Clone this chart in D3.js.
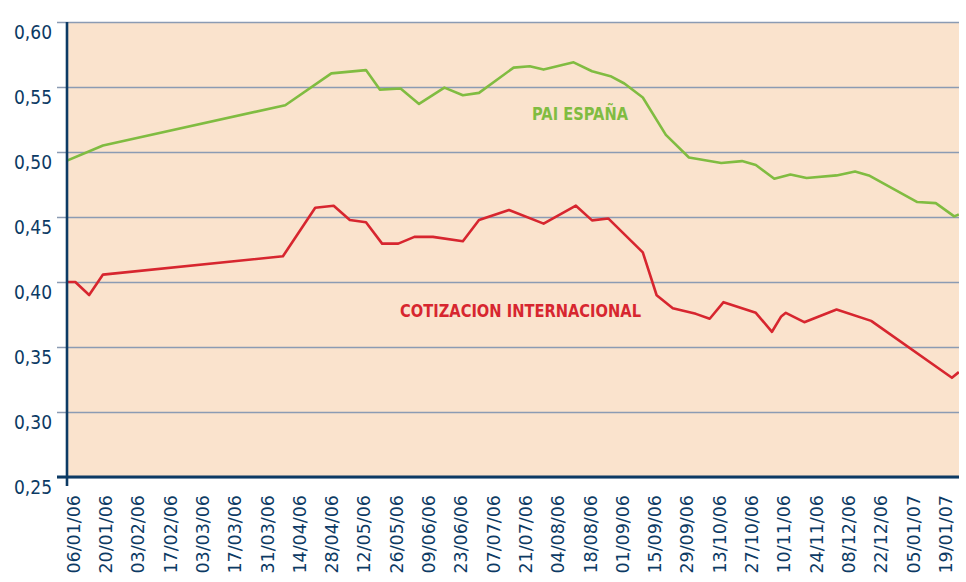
<!DOCTYPE html>
<html><head><meta charset="utf-8">
<script src="https://cdn.jsdelivr.net/npm/d3@7"></script>
<style>
html,body{margin:0;padding:0;background:#fff;}
svg{display:block;}
</style></head>
<body>
<svg id="chart" width="966" height="582"></svg>
<script>
// ---- data ----
const tickDates = ["06/01/06","20/01/06","03/02/06","17/02/06","03/03/06","17/03/06","31/03/06","14/04/06","28/04/06","12/05/06","26/05/06","09/06/06","23/06/06","07/07/06","21/07/06","04/08/06","18/08/06","01/09/06","15/09/06","29/09/06","13/10/06","27/10/06","10/11/06","24/11/06","08/12/06","22/12/06","05/01/07","19/01/07"];
const yTicks = [0.25,0.30,0.35,0.40,0.45,0.50,0.55,0.60];

const paiDates = ["03/01/06","19/01/06","08/04/06","28/04/06","13/05/06","19/05/06","28/05/06","05/06/06","16/06/06","24/06/06","01/07/06","16/07/06","23/07/06","29/07/06","11/08/06","19/08/06","27/08/06","02/09/06","10/09/06","20/09/06","30/09/06","14/10/06","23/10/06","29/10/06","06/11/06","13/11/06","20/11/06","03/12/06","11/12/06","17/12/06","07/01/07","15/01/07","23/01/07","25/01/07"];
const paiValues = [0.493,0.505,0.536,0.5605,0.563,0.548,0.5488,0.537,0.5495,0.5437,0.5455,0.5649,0.566,0.5634,0.569,0.5621,0.5583,0.5527,0.5419,0.5132,0.4958,0.4915,0.493,0.490,0.4794,0.4827,0.480,0.482,0.485,0.482,0.4615,0.4607,0.4505,0.452];

const cotDates = ["03/01/06","07/01/06","13/01/06","19/01/06","07/04/06","21/04/06","29/04/06","06/05/06","13/05/06","20/05/06","27/05/06","03/06/06","11/06/06","24/06/06","01/07/06","14/07/06","29/07/06","12/08/06","19/08/06","26/08/06","10/09/06","16/09/06","23/09/06","03/10/06","09/10/06","15/10/06","29/10/06","05/11/06","09/11/06","11/11/06","19/11/06","03/12/06","18/12/06","22/01/07","25/01/07"];
const cotValues = [0.400,0.400,0.390,0.4057,0.4198,0.4571,0.4587,0.4477,0.4459,0.4295,0.4295,0.4347,0.4347,0.4313,0.4477,0.4554,0.4449,0.4587,0.4474,0.4489,0.4228,0.3898,0.3798,0.3755,0.3717,0.3845,0.3763,0.3617,0.3735,0.3763,0.3691,0.3788,0.3701,0.3263,0.3307];

const seriesLabels = ["PAI ESPAÑA","COTIZACION INTERNACIONAL"];

// ---- layout ----
const navy = "#0c3a64", green = "#80bc41", red = "#d7262f", bg = "#fae3cd", grid = "#8b9bb3";
const parse = d3.timeParse("%d/%m/%y");
const fmt = d3.format(".2f");
const plot = {left: 67, right: 959, top: 22, bottom: 477};

const svg = d3.select("#chart");
const x = d3.scaleTime()
  .domain([parse(tickDates[0]), parse(tickDates[tickDates.length-1])])
  .range([73, 945]);
const y = d3.scaleLinear().domain([0.25, 0.60]).range([plot.bottom, plot.top]);

// background
svg.append("rect").attr("x", plot.left).attr("y", plot.top)
  .attr("width", plot.right - plot.left).attr("height", plot.bottom - plot.top)
  .attr("fill", bg);

// gridlines + y ticks
const yAxis = d3.axisLeft(y).tickValues(yTicks)
  .tickSize(-(plot.right - plot.left)).tickSizeOuter(0)
  .tickFormat(d => fmt(d).replace(".", ","));
const gy = svg.append("g").attr("transform", `translate(${plot.left},0)`).call(yAxis);
gy.select(".domain").remove();
gy.selectAll(".tick line").attr("stroke", grid).attr("stroke-width", 1.6).attr("x1", -10);
gy.selectAll(".tick text")
  .attr("x", -15).attr("dy", "0.85em")
  .attr("fill", navy)
  .style("font-family", "'DejaVu Sans Condensed', 'DejaVu Sans', sans-serif")
  .style("font-stretch", "condensed")
  .style("font-size", "19px");

// lines
const clip = svg.append("clipPath").attr("id", "pclip").append("rect")
  .attr("x", plot.left).attr("y", plot.top - 5)
  .attr("width", plot.right - plot.left).attr("height", plot.bottom - plot.top + 10);

const line = d3.line().x(d => x(d[0])).y(d => y(d[1]));
const paiData = paiDates.map((d, i) => [parse(d), paiValues[i]]);
const cotData = cotDates.map((d, i) => [parse(d), cotValues[i]]);

const lg = svg.append("g").attr("clip-path", "url(#pclip)");
lg.append("path").datum(paiData).attr("d", line)
  .attr("fill", "none").attr("stroke", green).attr("stroke-width", 2.6)
  .attr("stroke-linejoin", "round");
lg.append("path").datum(cotData).attr("d", line)
  .attr("fill", "none").attr("stroke", red).attr("stroke-width", 2.6)
  .attr("stroke-linejoin", "round");

// axes lines
svg.append("line").attr("x1", plot.left).attr("x2", plot.left)
  .attr("y1", plot.top).attr("y2", plot.bottom + 9)
  .attr("stroke", navy).attr("stroke-width", 2.6);
svg.append("line").attr("x1", plot.left - 10).attr("x2", plot.right)
  .attr("y1", plot.bottom).attr("y2", plot.bottom)
  .attr("stroke", navy).attr("stroke-width", 3);

// x labels
const xAxis = d3.axisBottom(x).tickValues(tickDates.map(parse))
  .tickSize(0).tickFormat(d3.timeFormat("%d/%m/%y"));
const gx = svg.append("g").attr("transform", `translate(0,${plot.bottom})`).call(xAxis);
gx.select(".domain").remove();
gx.selectAll(".tick text")
  .attr("transform", "rotate(-90)")
  .attr("x", -18).attr("y", 0).attr("dy", "0.36em")
  .attr("text-anchor", "end")
  .attr("fill", navy)
  .style("font-family", "'DejaVu Sans', Verdana, sans-serif")
  .style("font-size", "17.5px");

// series labels
svg.append("text").attr("x", 532).attr("y", 120)
  .attr("textLength", 96).attr("lengthAdjust", "spacingAndGlyphs")
  .attr("fill", green)
  .style("font-family", "'DejaVu Sans', sans-serif").style("font-weight", "bold").style("font-size", "17.5px")
  .text(seriesLabels[0]);
svg.append("text").attr("x", 400).attr("y", 317)
  .attr("textLength", 241).attr("lengthAdjust", "spacingAndGlyphs")
  .attr("fill", red)
  .style("font-family", "'DejaVu Sans', sans-serif").style("font-weight", "bold").style("font-size", "17.5px")
  .text(seriesLabels[1]);
</script>
</body></html>
